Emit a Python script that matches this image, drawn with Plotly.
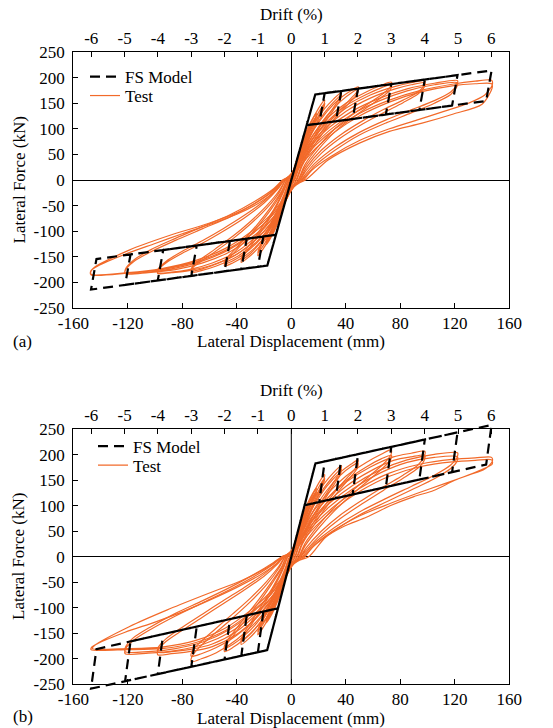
import plotly.graph_objects as go

# ---------------- axis ticks ----------------
drift_ticks = [-6, -5, -4, -3, -2, -1, 0, 1, 2, 3, 4, 5, 6]
drift_labels = ["-6", "-5", "-4", "-3", "-2", "-1", "0", "1", "2", "3", "4", "5", "6"]
disp_ticks = [-160, -120, -80, -40, 0, 40, 80, 120, 160]
disp_labels = ["-160", "-120", "-80", "-40", "0", "40", "80", "120", "160"]
force_ticks = [-250, -200, -150, -100, -50, 0, 50, 100, 150, 200, 250]
force_labels = ["-250", "-200", "-150", "-100", "-50", "0", "50", "100", "150", "200", "250"]
mm_per_drift = 24.47  # 1 % drift in mm (top axis scale)

# ---------------- (a) FS model path (mm, kN) ----------------
a_model = [(0, 0), (17.6, 167), (24.5, 169.5), (20.5, 110.3), (11.3, 107), (0, 0), (-17.6, -167), (-24.5, -169.5), (-20.5, -110.3), (-11.3, -107), (0, 0),
           (17.6, 167), (36.7, 173.9), (32.7, 114.7), (11.3, 107), (0, 0), (-17.6, -167), (-36.7, -173.9), (-32.7, -114.7), (-11.3, -107), (0, 0),
           (17.6, 167), (49, 178.4), (45, 119.1), (11.3, 107), (0, 0), (-17.6, -167), (-49, -178.4), (-45, -119.1), (-11.3, -107), (0, 0),
           (17.6, 167), (73.4, 187.3), (69.4, 127.9), (11.3, 107), (0, 0), (-17.6, -167), (-73.4, -187.3), (-69.4, -127.9), (-11.3, -107), (0, 0),
           (17.6, 167), (98, 196.2), (94, 136.8), (11.3, 107), (0, 0), (-17.6, -167), (-98, -196.2), (-94, -136.8), (-11.3, -107), (0, 0),
           (17.6, 167), (122, 204.9), (118, 145.4), (11.3, 107), (0, 0), (-17.6, -167), (-122, -204.9), (-118, -145.4), (-11.3, -107), (0, 0),
           (17.6, 167), (147, 214.0), (143, 154.4), (11.3, 107), (0, 0), (-17.6, -167), (-147, -214.0), (-143, -154.4), (-11.3, -107), (0, 0)]

# ---------------- (b) FS model path ----------------
b_model = [(0, 0), (17.7, 183), (24.5, 187.0), (20.5, 107.4), (9.8, 101), (0, 0), (-17.7, -183), (-24.5, -187.0), (-20.5, -107.4), (-9.8, -101), (0, 0),
           (17.7, 183), (36.7, 194.1), (32.7, 114.7), (9.8, 101), (0, 0), (-17.7, -183), (-36.7, -194.1), (-32.7, -114.7), (-9.8, -101), (0, 0),
           (17.7, 183), (49, 201.3), (45, 122.1), (9.8, 101), (0, 0), (-17.7, -183), (-49, -201.3), (-45, -122.1), (-9.8, -101), (0, 0),
           (17.7, 183), (73.4, 215.6), (69.4, 136.8), (9.8, 101), (0, 0), (-17.7, -183), (-73.4, -215.6), (-69.4, -136.8), (-9.8, -101), (0, 0),
           (17.7, 183), (98, 230.0), (94, 151.5), (9.8, 101), (0, 0), (-17.7, -183), (-98, -230.0), (-94, -151.5), (-9.8, -101), (0, 0),
           (17.7, 183), (122, 244.0), (118, 165.9), (9.8, 101), (0, 0), (-17.7, -183), (-122, -244.0), (-118, -165.9), (-9.8, -101), (0, 0),
           (17.7, 183), (147, 258.6), (143, 180.9), (9.8, 101), (0, 0), (-17.7, -183), (-147, -258.6), (-143, -180.9), (-9.8, -101), (0, 0)]

# ---------------- (a) test loops, one list per drift level ----------------
a_loop_025 = [(0, 0), (3, 30), (6.1, 56), (5.5, 50), (2.5, 25), (-0.5, -3), (-3, -30), (-6.1, -54), (-5.5, -48), (-2.5, -22), (0, 0)]
a_loop_050 = [(0, 0), (4, 38), (8, 72), (12.2, 98), (11.6, 92), (8, 66), (4, 36), (0.5, 4), (-4, -36), (-8, -70), (-12.2, -96), (-11.6, -90), (-8, -64), (-4, -34), (-0.5, -2)]
a_loop_075 = [(-0.5, -2), (4, 40), (9, 82), (14, 112), (18.4, 130), (17.8, 122), (13, 96), (7, 56), (1.5, 8), (-4, -38), (-9, -78), (-14, -108), (-18.4, -126), (-17.8, -118), (-13, -92), (-7, -52), (-1.5, -6),
              (4, 34), (9, 76), (14, 106), (18.4, 124), (17.8, 117), (13, 90), (7, 50), (2, 4), (-4, -34), (-9, -74), (-14, -104), (-18.4, -121), (-17.8, -114), (-13, -88), (-7, -48), (-2, -4)]
a_loop_100 = [(-2, -5), (3, 28), (9, 75), (15, 115), (20, 140), (24.5, 156), (23.8, 147), (19, 120), (12, 80), (5, 35), (1, 4), (-4, -30), (-10, -76), (-16, -114), (-21, -136), (-24.5, -148), (-23.8, -139), (-19, -112), (-12, -74), (-5, -30), (-1.5, -2),
              (3, 24), (9, 68), (15, 106), (20, 132), (24.5, 150), (23.8, 141), (19, 114), (12, 74), (5, 30), (1.5, 2), (-4, -26), (-10, -70), (-16, -108), (-21, -130), (-24.5, -143), (-23.8, -134), (-19, -106), (-12, -68), (-5, -26), (-2, -3)]
a_loop_150 = [(-2, 0), (3, 28), (9, 70), (16, 108), (24, 138), (31, 158), (36.7, 171), (36, 162), (31, 142), (23, 112), (14, 72), (6, 30), (2, 0), (-3, -30), (-9, -70), (-16, -105), (-24, -132), (-31, -150), (-36.7, -161), (-36, -152), (-30, -130), (-22, -100), (-13, -62), (-6, -25), (-2, 0),
              (3, 24), (9, 62), (16, 98), (24, 130), (31, 152), (36.7, 166), (36, 157), (31, 137), (23, 106), (14, 66), (6, 26), (2.5, 0), (-3, -26), (-9, -64), (-16, -98), (-24, -126), (-31, -146), (-36.7, -156), (-36, -147), (-30, -124), (-22, -94), (-13, -58), (-6, -22), (-2.5, 0)]
a_loop_200 = [(-2.5, 0), (3, 25), (9, 62), (17, 100), (26, 133), (36, 160), (44, 175), (49, 182), (48.3, 173), (44, 160), (36, 138), (26, 108), (16, 70), (8, 32), (3.5, 0), (-2, -28), (-8, -62), (-16, -98), (-25, -128), (-35, -150), (-43, -162), (-49, -168), (-48.3, -160), (-43, -145), (-35, -122), (-25, -92), (-15, -58), (-7, -25), (-3, 0),
              (3, 20), (9, 55), (17, 92), (26, 125), (36, 153), (44, 170), (49, 177), (48.3, 168), (44, 155), (36, 132), (26, 102), (16, 64), (8, 28), (4, 0), (-2, -24), (-8, -56), (-16, -92), (-25, -122), (-35, -145), (-43, -158), (-49, -164), (-48.3, -156), (-43, -140), (-35, -117), (-25, -87), (-15, -53), (-7, -21), (-3.5, 0)]
a_loop_300 = [(-3.5, 0), (2, 20), (8, 52), (16, 88), (27, 122), (40, 150), (55, 172), (66, 185), (73.4, 191), (72.8, 182), (68, 170), (58, 152), (45, 128), (32, 100), (20, 66), (10, 30), (5, 0), (-1, -25), (-7, -56), (-15, -90), (-26, -122), (-40, -150), (-55, -168), (-66, -177), (-73.4, -181), (-72.8, -173), (-67, -160), (-56, -140), (-43, -115), (-30, -86), (-18, -55), (-9, -25), (-4, 0),
              (2, 16), (8, 46), (16, 82), (27, 116), (40, 145), (55, 167), (66, 180), (73.4, 186), (72.8, 177), (68, 165), (58, 146), (45, 122), (32, 94), (20, 60), (10, 25), (5.5, 0), (-1, -21), (-7, -50), (-15, -84), (-26, -116), (-40, -145), (-55, -164), (-66, -174), (-73.4, -178), (-72.8, -170), (-67, -156), (-56, -135), (-43, -110), (-30, -81), (-18, -50), (-9, -21), (-4.5, 0)]
a_loop_400 = [(-4.5, 0), (1, 16), (7, 45), (15, 78), (26, 110), (40, 140), (58, 166), (75, 182), (88, 190), (98, 194), (97.5, 185), (93, 172), (82, 156), (68, 138), (52, 115), (36, 88), (22, 58), (11, 24), (6, 0), (0, -20), (-6, -50), (-14, -82), (-25, -114), (-40, -145), (-58, -166), (-75, -177), (-88, -181), (-98, -183), (-97.5, -175), (-92, -162), (-80, -143), (-65, -123), (-50, -100), (-35, -75), (-20, -45), (-10, -18), (-5, 0),
              (1, 12), (7, 40), (15, 72), (26, 104), (40, 134), (58, 160), (75, 177), (88, 186), (98, 190), (97.5, 181), (93, 168), (82, 151), (68, 132), (52, 109), (36, 82), (22, 52), (11, 19), (6.5, 0), (0, -16), (-6, -45), (-14, -76), (-25, -108), (-40, -140), (-58, -162), (-75, -175), (-88, -180), (-98, -181), (-97.5, -173), (-92, -159), (-80, -139), (-65, -118), (-50, -95), (-35, -70), (-20, -41), (-10, -15), (-5.5, 0)]
a_loop_500 = [(-5.5, 0), (1, 14), (7, 40), (16, 72), (28, 103), (45, 135), (65, 160), (85, 178), (105, 189), (122, 194), (121.5, 186), (117, 172), (105, 155), (88, 137), (70, 118), (50, 93), (32, 64), (17, 32), (7, 0), (0, -18), (-6, -45), (-15, -78), (-28, -110), (-45, -140), (-65, -162), (-85, -175), (-105, -181), (-122, -183), (-121.5, -175), (-116, -160), (-103, -140), (-85, -118), (-65, -95), (-45, -72), (-27, -46), (-13, -20), (-6, 0),
              (1, 10), (7, 35), (16, 66), (28, 97), (45, 129), (65, 155), (85, 174), (105, 186), (122, 190), (121.5, 182), (117, 167), (105, 150), (88, 131), (70, 112), (50, 88), (32, 58), (17, 27), (8, 0), (0, -14), (-6, -40), (-15, -72), (-28, -104), (-45, -135), (-65, -158), (-85, -172), (-105, -180), (-122, -182), (-121.5, -173), (-116, -157), (-103, -136), (-85, -114), (-65, -91), (-45, -68), (-27, -42), (-13, -17), (-6.5, 0)]
a_loop_600 = [(-6.5, 0), (1, 12), (8, 38), (18, 68), (32, 100), (50, 130), (72, 156), (95, 175), (118, 187), (135, 193), (147, 195), (147.5, 186), (142, 166), (130, 150), (112, 134), (92, 117), (72, 100), (50, 77), (29, 46), (15, 19), (9, 0), (1, -15), (-6, -42), (-16, -75), (-30, -107), (-48, -137), (-70, -160), (-95, -175), (-120, -182), (-147, -185), (-147, -177), (-142, -168), (-122, -145), (-100, -124), (-80, -105), (-60, -87), (-40, -67), (-22, -42), (-10, -17), (-6, 0),
              (1, 8), (8, 32), (18, 62), (32, 94), (50, 125), (72, 152), (95, 172), (118, 184), (135, 188), (147, 188), (147.5, 181), (140, 148), (119, 129), (96, 111), (72, 95), (50, 72), (27, 39), (10.4, 0), (1, -12), (-6, -38), (-16, -70), (-30, -102), (-48, -133), (-70, -157), (-95, -173), (-120, -181), (-147, -184), (-146, -174), (-119, -137), (-89, -108), (-61, -85), (-36, -59), (-17, -29), (-6, -3)]

# ---------------- (b) test loops ----------------
b_loop_025 = [(0, 0), (3, 30), (6.1, 57), (5.5, 51), (2.5, 25), (-0.5, -3), (-3, -30), (-6.1, -55), (-5.5, -49), (-2.5, -22), (0, 0)]
b_loop_050 = [(0, 0), (4, 40), (8, 74), (12.2, 99), (11.6, 93), (8, 66), (4, 36), (0.5, 4), (-4, -37), (-8, -71), (-12.2, -96), (-11.6, -90), (-8, -64), (-4, -34), (-0.5, -2)]
b_loop_075 = [(-0.5, -2), (4, 42), (9, 85), (14, 116), (18.4, 134), (17.8, 126), (13, 98), (7, 57), (1.5, 8), (-4, -39), (-9, -80), (-14, -111), (-18.4, -129), (-17.8, -121), (-13, -94), (-7, -53), (-1.5, -6),
              (4, 36), (9, 79), (14, 110), (18.4, 128), (17.8, 120), (13, 92), (7, 51), (2, 4), (-4, -35), (-9, -76), (-14, -106), (-18.4, -124), (-17.8, -117), (-13, -90), (-7, -49), (-2, -4)]
b_loop_100 = [(-2, -5), (3, 29), (9, 77), (15, 118), (20, 144), (24.5, 161), (23.8, 151), (19, 122), (12, 80), (5, 34), (1, 3), (-4, -31), (-10, -78), (-16, -117), (-21, -140), (-24.5, -153), (-23.8, -143), (-19, -114), (-12, -75), (-5, -30), (-1.5, -2),
              (3, 25), (9, 70), (15, 109), (20, 136), (24.5, 154), (23.8, 145), (19, 116), (12, 74), (5, 29), (1.5, 1), (-4, -27), (-10, -72), (-16, -110), (-21, -133), (-24.5, -147), (-23.8, -137), (-19, -108), (-12, -69), (-5, -26), (-2, -3)]
b_loop_150 = [(-2, 0), (3, 28), (9, 72), (16, 112), (24, 143), (31, 165), (36.7, 179), (36, 168), (31, 146), (23, 112), (14, 70), (6, 27), (2.5, 0), (-3, -31), (-9, -73), (-16, -110), (-24, -140), (-31, -160), (-36.7, -172), (-36, -161), (-30, -136), (-22, -102), (-13, -62), (-6, -24), (-2.5, 0),
              (3, 24), (9, 64), (16, 102), (24, 135), (31, 158), (36.7, 172), (36, 162), (31, 140), (23, 106), (14, 64), (6, 23), (3, 0), (-3, -27), (-9, -66), (-16, -102), (-24, -133), (-31, -154), (-36.7, -166), (-36, -155), (-30, -130), (-22, -96), (-13, -57), (-6, -20), (-3, 0)]
b_loop_200 = [(-3, 0), (3, 24), (9, 62), (17, 102), (26, 138), (36, 166), (44, 182), (49, 190), (48.3, 179), (44, 164), (36, 140), (26, 106), (16, 66), (8, 28), (4, 0), (-2, -28), (-8, -64), (-16, -102), (-25, -136), (-35, -162), (-43, -178), (-49, -186), (-48.3, -175), (-43, -156), (-35, -128), (-25, -94), (-15, -56), (-7, -22), (-3.5, 0),
              (3, 20), (9, 55), (17, 94), (26, 130), (36, 160), (44, 177), (49, 184), (48.3, 173), (44, 158), (36, 133), (26, 99), (16, 60), (8, 24), (4.5, 0), (-2, -24), (-8, -58), (-16, -95), (-25, -129), (-35, -156), (-43, -172), (-49, -180), (-48.3, -169), (-43, -150), (-35, -122), (-25, -88), (-15, -51), (-7, -19), (-4, 0)]
b_loop_300 = [(-4, 0), (2, 18), (8, 50), (16, 88), (27, 125), (40, 158), (55, 185), (66, 201), (73.4, 210), (73, 199), (68, 183), (58, 160), (45, 130), (32, 98), (20, 62), (10, 26), (5.5, 0), (-1, -24), (-7, -56), (-15, -92), (-26, -128), (-40, -162), (-55, -188), (-66, -200), (-73.4, -206), (-72.8, -195), (-67, -176), (-56, -150), (-43, -120), (-30, -88), (-18, -54), (-9, -22), (-4.5, 0),
              (2, 14), (8, 44), (16, 80), (27, 116), (40, 149), (55, 176), (66, 192), (73.4, 199), (72.8, 190), (68, 176), (58, 153), (45, 123), (32, 91), (20, 56), (10, 21), (6, 0), (-1, -20), (-7, -50), (-15, -85), (-26, -120), (-40, -154), (-55, -178), (-66, -190), (-73.4, -195), (-72.8, -185), (-67, -168), (-56, -142), (-43, -112), (-30, -81), (-18, -48), (-9, -18), (-5, 0)]
b_loop_400 = [(-5, 0), (1, 15), (7, 44), (15, 78), (26, 113), (40, 146), (58, 176), (75, 196), (88, 203), (98, 207), (97.5, 196), (93, 180), (82, 160), (68, 138), (52, 111), (36, 82), (22, 50), (11, 18), (6.5, 0), (0, -20), (-6, -50), (-14, -84), (-25, -118), (-40, -152), (-58, -176), (-75, -186), (-88, -190), (-98, -192), (-97.5, -182), (-92, -166), (-80, -144), (-65, -118), (-50, -92), (-35, -66), (-20, -38), (-10, -14), (-5.5, 0),
              (1, 11), (7, 38), (15, 71), (26, 105), (40, 138), (58, 168), (75, 189), (88, 196), (98, 199), (97.5, 189), (93, 174), (82, 154), (68, 131), (52, 104), (36, 75), (22, 44), (11, 13), (7, 0), (0, -16), (-6, -45), (-14, -78), (-25, -111), (-40, -146), (-58, -171), (-75, -182), (-88, -186), (-98, -187), (-97.5, -177), (-92, -161), (-80, -138), (-65, -112), (-50, -86), (-35, -61), (-20, -34), (-10, -11), (-6, 0)]
b_loop_500 = [(-6, 0), (1, 13), (7, 39), (16, 72), (28, 105), (45, 140), (65, 170), (85, 190), (105, 201), (122, 204), (121.5, 194), (117, 180), (105, 160), (88, 138), (70, 115), (50, 88), (32, 58), (17, 27), (8, 0), (0, -18), (-6, -46), (-15, -80), (-28, -114), (-45, -148), (-65, -172), (-85, -184), (-105, -189), (-122, -190), (-121.5, -180), (-116, -164), (-103, -142), (-85, -116), (-65, -90), (-45, -64), (-27, -38), (-13, -14), (-7, 0),
              (1, 9), (7, 34), (16, 66), (28, 98), (45, 133), (65, 164), (85, 185), (105, 195), (122, 196), (121.5, 187), (117, 173), (105, 153), (88, 131), (70, 108), (50, 82), (32, 52), (17, 22), (9, 0), (0, -14), (-6, -41), (-15, -74), (-28, -108), (-45, -142), (-65, -167), (-85, -180), (-105, -186), (-122, -186), (-121.5, -176), (-116, -159), (-103, -137), (-85, -111), (-65, -86), (-45, -60), (-27, -34), (-13, -11), (-7, 0)]
b_loop_600 = [(-7, 0), (1, 11), (8, 36), (18, 66), (32, 100), (50, 134), (72, 164), (95, 182), (118, 191), (135, 194), (147, 195), (147.5, 187), (142, 172), (130, 160), (112, 143), (92, 124), (72, 104), (50, 80), (29, 48), (15, 18), (10, 0), (1, -15), (-6, -42), (-16, -76), (-30, -110), (-48, -144), (-70, -168), (-95, -180), (-120, -182), (-147, -182), (-146.5, -177), (-142, -170), (-122, -148), (-100, -128), (-80, -108), (-60, -85), (-40, -60), (-22, -34), (-10, -12), (-6, 0),
              (1, 7), (8, 30), (18, 60), (32, 94), (50, 128), (72, 158), (95, 177), (118, 186), (135, 189), (147, 190), (147.5, 182), (139, 170), (120, 150), (104.5, 130), (90, 118), (72.5, 100), (55.5, 78), (38, 59), (25, 38), (12.7, 0), (1, -12), (-6, -38), (-16, -71), (-30, -105), (-48, -139), (-70, -164), (-95, -177), (-120, -180), (-146, -180), (-144, -173), (-119, -137), (-91, -104), (-61, -72), (-36, -46), (-17, -20), (-6, 0)]

a_loops = [a_loop_025, a_loop_050, a_loop_075, a_loop_100, a_loop_150, a_loop_200, a_loop_300, a_loop_400, a_loop_500, a_loop_600]
b_loops = [b_loop_025, b_loop_050, b_loop_075, b_loop_100, b_loop_150, b_loop_200, b_loop_300, b_loop_400, b_loop_500, b_loop_600]

# ---------------- style ----------------
ORANGE = "#F26A2A"
FONT = "Liberation Serif, Times New Roman, DejaVu Serif, serif"
W, H = 553, 728
XD = [73.3 / W, 509.3 / W]
YA = [1 - 308 / H, 1 - 52 / H]
YB = [1 - 684.3 / H, 1 - 429.3 / H]

fig = go.Figure()


def add_panel(loops, model, xa, ya, ya_model, leg_model, leg_test):
    for i, lp in enumerate(loops):
        fig.add_trace(go.Scatter(
            x=[p[0] for p in lp], y=[p[1] for p in lp], mode="lines",
            line=dict(color=ORANGE, width=1.2, shape="spline", smoothing=0.8),
            name="Test", showlegend=(i == 0), legend=leg_test,
            xaxis=xa, yaxis=ya, hoverinfo="skip"))
    fig.add_trace(go.Scatter(
        x=[p[0] for p in model], y=[p[1] for p in model], mode="lines",
        line=dict(color="black", width=2.2, dash="10px,6px"),
        name="FS Model", legend=leg_model,
        xaxis=xa, yaxis=ya_model, hoverinfo="skip"))


add_panel(a_loops, a_model, "x", "y", "y", "legend", "legend3")
add_panel(b_loops, b_model, "x2", "y2", "y6", "legend2", "legend4")

tickfont = dict(family=FONT, size=17, color="black")
common = dict(showline=True, linecolor="black", linewidth=1.3, ticks="inside", ticklen=5,
              tickwidth=1, tickcolor="black", showgrid=False, tickfont=tickfont, automargin=False)

xbot = dict(common, range=[-160, 160], tickmode="array", tickvals=disp_ticks, ticktext=disp_labels,
            mirror=True, domain=XD, ticklabelstandoff=-1)
xtop = dict(common, range=[-160 / mm_per_drift, 160 / mm_per_drift], tickmode="array", tickvals=drift_ticks,
            ticktext=drift_labels, side="top", showline=False, zeroline=False, ticklabelstandoff=4)
yax = dict(common, range=[-250, 250], tickmode="array", tickvals=force_ticks, ticktext=force_labels,
           mirror=True, zeroline=True, zerolinecolor="black", zerolinewidth=1, ticklabelstandoff=4)

# extended (invisible) axis so the model lines of (b) can run past the frame
ext = 14 / H
hB = YB[1] - YB[0]
rng6 = 250 * (hB + 2 * ext) / hB

legstyle = dict(xanchor="left", yanchor="middle", bgcolor="rgba(0,0,0,0)",
                font=dict(family=FONT, size=17, color="black"), borderwidth=0)

fig.update_layout(
    template="none",
    width=W, height=H, margin=dict(l=0, r=0, t=0, b=0, autoexpand=False),
    paper_bgcolor="white", plot_bgcolor="rgba(0,0,0,0)",
    font=dict(family=FONT, size=17, color="black"),
    xaxis=dict(xbot, anchor="y", zeroline=True, zerolinecolor="black", zerolinewidth=1),
    yaxis=dict(yax, domain=YA, anchor="x"),
    xaxis3=dict(xtop, overlaying="x", anchor="y"),
    xaxis2=dict(xbot, anchor="y2", zeroline=False),
    yaxis2=dict(yax, domain=YB, anchor="x2"),
    xaxis4=dict(xtop, overlaying="x2", anchor="y2"),
    yaxis6=dict(domain=[YB[0] - ext, YB[1] + ext], range=[-rng6, rng6], visible=False,
                anchor="x2", showgrid=False, zeroline=False, automargin=False),
    legend=dict(legstyle, x=85 / W, y=1 - 77 / H),
    legend3=dict(legstyle, x=85 / W, y=1 - 96 / H),
    legend2=dict(legstyle, x=93 / W, y=1 - 446.5 / H),
    legend4=dict(legstyle, x=93 / W, y=1 - 465.5 / H),
    showlegend=True,
    hovermode=False,
)

# vertical zero line of panel (b)
fig.add_shape(type="line", xref="x2", yref="y2 domain", x0=0, x1=0, y0=0, y1=1,
              line=dict(color="black", width=1), layer="below")

# dummy traces to activate top axes
fig.add_trace(go.Scatter(x=[None], y=[None], xaxis="x3", yaxis="y", showlegend=False, hoverinfo="skip"))
fig.add_trace(go.Scatter(x=[None], y=[None], xaxis="x4", yaxis="y2", showlegend=False, hoverinfo="skip"))

ann = dict(showarrow=False, xref="paper", yref="paper", font=dict(family=FONT, size=17, color="black"))
xc = (XD[0] + XD[1]) / 2
fig.add_annotation(ann, text="Drift (%)", x=xc, y=1 - 14 / H, xanchor="center", yanchor="middle")
fig.add_annotation(ann, text="Lateral Displacement (mm)", x=xc, y=1 - 341.5 / H, xanchor="center", yanchor="middle")
fig.add_annotation(ann, text="Lateral Force (kN)", x=18.5 / W, y=1 - 180 / H, textangle=-90, xanchor="center", yanchor="middle")
fig.add_annotation(ann, text="(a)", x=11 / W, y=1 - 341.5 / H, xanchor="left", yanchor="middle")
fig.add_annotation(ann, text="Drift (%)", x=xc, y=1 - 390 / H, xanchor="center", yanchor="middle")
fig.add_annotation(ann, text="Lateral Displacement (mm)", x=xc, y=1 - 718 / H, xanchor="center", yanchor="middle")
fig.add_annotation(ann, text="Lateral Force (kN)", x=18.5 / W, y=1 - 556.5 / H, textangle=-90, xanchor="center", yanchor="middle")
fig.add_annotation(ann, text="(b)", x=11 / W, y=1 - 716.5 / H, xanchor="left", yanchor="middle")

fig.write_html("out.html", config={"displayModeBar": False},
               post_script="document.body.style.margin='0px';")
